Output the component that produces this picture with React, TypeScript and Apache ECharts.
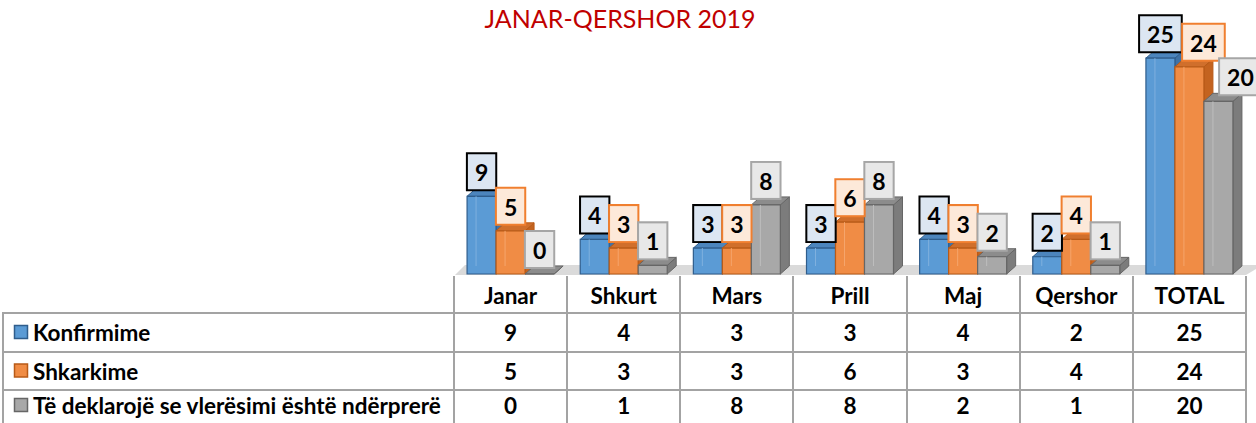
import React, { useEffect, useRef } from "react";
import * as echarts from "echarts";

const title = "JANAR-QERSHOR 2019";
const categories = ["Janar", "Shkurt", "Mars", "Prill", "Maj", "Qershor", "TOTAL"];
const seriesNames = ["Konfirmime", "Shkarkime", "Të deklarojë se vlerësimi është ndërprerë"];
const konfirmime = [9, 4, 3, 3, 4, 2, 25];
const shkarkime = [5, 3, 3, 6, 3, 4, 24];
const deklaroje = [0, 1, 8, 8, 2, 1, 20];
const seriesData = [konfirmime, shkarkime, deklaroje];

const W = 1256;
const H = 423;
const GRID_LEFT = 454;
const GRID_RIGHT_X = 1246;
const FLOOR_Y = 274;
const COLW = (GRID_RIGHT_X - GRID_LEFT) / categories.length;
const BAR_W = 29;
const DX = 9;
const DY = 8;
const WIDE_LABEL_SHIFT = [0, 14, 22];

const styles = [
  { front: "#5b9bd5", top: "#4c85bd", side: "#3f72a6", edge: "#2f5d8c", inner: "#7fb0de", boxFill: "#dce6f2", boxBorder: "#000000", marker: "#5b9bd5", markerBorder: "#2f5d8c" },
  { front: "#f08c45", top: "#d06f2c", side: "#c4631f", edge: "#b85a17", inner: "#f5a56c", boxFill: "#fde9d9", boxBorder: "#f07f2f", marker: "#f08c45", markerBorder: "#b85a17" },
  { front: "#a8a8a8", top: "#8c8c8c", side: "#7c7c7c", edge: "#666666", inner: "#bdbdbd", boxFill: "#e8e8e8", boxBorder: "#a6a6a6", marker: "#a8a8a8", markerBorder: "#666666" },
];

const LINE = "#a3a3a3";
const ROW_Y = [276, 313, 352, 390, 423];
const TFONT = "bold 22.5px Lato";

export default function App() {
  const ref = useRef<HTMLDivElement>(null);
  useEffect(() => {
    if (!ref.current) return;
    const chart = echarts.init(ref.current, undefined, { renderer: "svg" });

    const series: any[] = seriesData.map((data, si) => ({
      type: "custom",
      name: seriesNames[si],
      data: data.map((v, i) => [i, v]),
      renderItem: (params: any, api: any) => {
        const cat = api.value(0);
        const val = api.value(1);
        const base = api.coord([cat, 0]);
        const top = api.coord([cat, val]);
        const x0 = base[0] - (BAR_W * 3) / 2 + si * BAR_W;
        const x1 = x0 + BAR_W;
        const yb = base[1];
        const yt = top[1];
        const s = styles[si];
        const children: any[] = [
          {
            type: "polygon",
            shape: { points: [[x1, yb], [x1 + DX, yb - DY], [x1 + DX, yt - DY], [x1, yt]] },
            style: { fill: s.side, stroke: s.edge, lineWidth: 1 },
          },
          {
            type: "polygon",
            shape: { points: [[x0, yt], [x0 + DX, yt - DY], [x1 + DX, yt - DY], [x1, yt]] },
            style: { fill: s.top, stroke: s.edge, lineWidth: 1 },
          },
          {
            type: "rect",
            shape: { x: x0, y: yt, width: BAR_W, height: yb - yt },
            style: { fill: s.front, stroke: s.edge, lineWidth: 1.2 },
          },
        ];
        if (yb - yt > DY + 2) {
          children.push({
            type: "line",
            shape: { x1: x0 + DX, y1: yt, x2: x0 + DX, y2: yb - DY },
            style: { stroke: s.inner, lineWidth: 1 },
          });
        }
        const txt = String(val);
        const shift = txt.length > 1 ? WIDE_LABEL_SHIFT[si] : 0;
        children.push({
          type: "text",
          x: (x0 + x1) / 2 + shift,
          y: yt - DY + 1,
          z2: 100,
          style: {
            text: txt,
            font: "bold 23px Lato",
            fill: "#000000",
            align: "center",
            verticalAlign: "bottom",
            backgroundColor: s.boxFill,
            borderColor: s.boxBorder,
            borderWidth: 2,
            padding: [6, 7, 5, 7],
            lineHeight: 24,
          },
        });
        return { type: "group", children };
      },
    }));

    const graphics: any[] = [];
    graphics.push({
      type: "polygon",
      z: 0,
      shape: {
        points: [
          [GRID_LEFT + 1, FLOOR_Y + 1],
          [GRID_LEFT + 11, FLOOR_Y - 9],
          [W, FLOOR_Y - 9],
          [W, FLOOR_Y - 5],
          [GRID_RIGHT_X, FLOOR_Y + 1],
        ],
      },
      style: { fill: "#dadada" },
      silent: true,
    });
    graphics.push({
      type: "text",
      x: 620,
      y: 18,
      style: { text: title, font: "25px Lato", fill: "#c00000", align: "center", verticalAlign: "middle" },
    });
    for (let r = 1; r <= 3; r++) {
      graphics.push({
        type: "line",
        shape: { x1: 2, y1: ROW_Y[r], x2: GRID_RIGHT_X, y2: ROW_Y[r] },
        style: { stroke: LINE, lineWidth: 2 },
      });
    }
    graphics.push({
      type: "line",
      shape: { x1: 3, y1: ROW_Y[1], x2: 3, y2: H },
      style: { stroke: LINE, lineWidth: 2 },
    });
    for (let c = 0; c <= categories.length; c++) {
      const x = Math.round(GRID_LEFT + c * COLW);
      graphics.push({
        type: "line",
        shape: { x1: x, y1: ROW_Y[0], x2: x, y2: H },
        style: { stroke: LINE, lineWidth: 2 },
      });
    }
    categories.forEach((c, i) => {
      graphics.push({
        type: "text",
        x: GRID_LEFT + (i + 0.5) * COLW,
        y: (ROW_Y[0] + ROW_Y[1]) / 2 + 1,
        style: { text: c, font: TFONT, fill: "#000", align: "center", verticalAlign: "middle" },
      });
    });
    seriesData.forEach((data, si) => {
      const cy = (ROW_Y[si + 1] + ROW_Y[si + 2]) / 2 + (si === 2 ? -1 : 0);
      graphics.push({
        type: "rect",
        shape: { x: 14.5, y: cy - 7, width: 13, height: 13 },
        style: { fill: styles[si].marker, stroke: styles[si].markerBorder, lineWidth: 1.5 },
      });
      graphics.push({
        type: "text",
        x: 33,
        y: cy,
        style: { text: seriesNames[si], font: TFONT, fill: "#000", align: "left", verticalAlign: "middle" },
      });
      data.forEach((v, i) => {
        graphics.push({
          type: "text",
          x: GRID_LEFT + (i + 0.5) * COLW,
          y: cy,
          style: { text: String(v), font: TFONT, fill: "#000", align: "center", verticalAlign: "middle" },
        });
      });
    });

    chart.setOption({
      animation: false,
      grid: { left: GRID_LEFT, right: W - GRID_RIGHT_X, top: FLOOR_Y - 259, bottom: H - FLOOR_Y },
      xAxis: { type: "category", data: categories, show: false },
      yAxis: { type: "value", min: 0, max: 30, show: false },
      series,
      graphic: graphics,
    });
    return () => chart.dispose();
  }, []);
  return (
    <div
      ref={ref}
      style={{ position: "absolute", left: 0, top: 0, width: W, height: H, background: "#fff" }}
    />
  );
}
